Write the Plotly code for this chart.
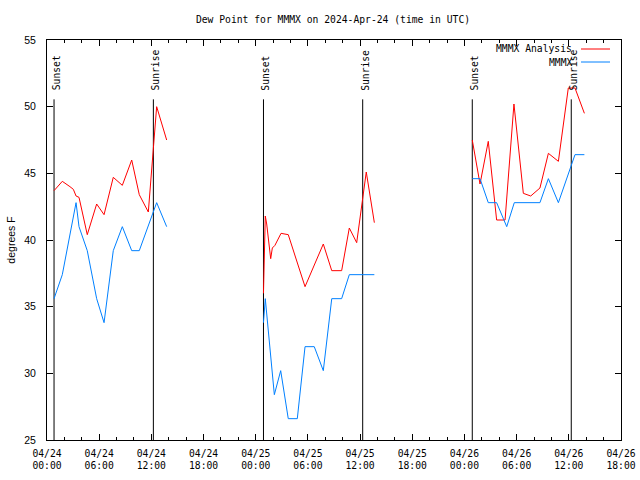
import pandas as pd
import plotly.graph_objects as go

BASE = pd.Timestamp("2024-04-24 00:00")

# Hours since 2024-04-24 00:00 UTC (None breaks the line between nights)
analysis_hours = [0.81, 1.76, 2.64, 3.03, 3.34, 3.68, 4.63, 5.71, 6.56, 7.62, 8.66, 9.74, 10.61, 11.65, 12.61, 13.76,
                  None,
                  24.89, 25.10, 25.26, 25.72, 25.91, 26.21, 26.91, 27.74, 29.67, 31.77, 32.74, 33.88, 34.76, 35.61, 36.71, 37.64,
                  None,
                  48.90, 49.79, 50.74, 51.70, 52.67, 53.69, 54.77, 55.62, 56.68, 57.65, 58.80, 59.94, 60.71, 61.79]
analysis_dewpt = [43.7, 44.4, 44.0, 43.8, 43.3, 43.2, 40.4, 42.7, 41.9, 44.7, 44.1, 46.0, 43.4, 42.1, 50.0, 47.5,
                  None,
                  36.0, 41.8, 41.2, 38.6, 39.4, 39.6, 40.5, 40.4, 36.5, 39.7, 37.7, 37.7, 40.9, 39.8, 45.1, 41.3,
                  None,
                  47.5, 44.2, 47.4, 41.5, 41.5, 50.2, 43.5, 43.3, 43.9, 46.5, 45.9, 51.4, 51.4, 49.5]

obs_hours = [0.81, 1.76, 3.34, 3.68, 4.63, 5.71, 6.56, 7.62, 8.66, 9.74, 10.61, 12.61, 13.76,
             None,
             24.89, 25.10, 26.14, 26.87, 27.74, 28.78, 29.67, 30.73, 31.77, 32.74, 33.88, 34.76, 37.64,
             None,
             48.90, 49.79, 50.74, 51.70, 52.86, 53.73, 56.68, 57.65, 58.80, 60.71, 61.79]
obs_dewpt = [35.6, 37.4, 42.8, 41.0, 39.2, 35.6, 33.8, 39.2, 41.0, 39.2, 39.2, 42.8, 41.0,
             None,
             33.8, 35.6, 28.4, 30.2, 26.6, 26.6, 32.0, 32.0, 30.2, 35.6, 35.6, 37.4, 37.4,
             None,
             44.6, 44.6, 42.8, 42.8, 41.0, 42.8, 42.8, 44.6, 42.8, 46.4, 46.4]

sunset_hours = [0.81, 24.89, 48.90]
sunrise_hours = [12.23, 36.30, 60.28]
marker_top = 50.55
y_min, y_max = 25, 55
x_span_hours = 66

tick_hours = [0, 6, 12, 18, 24, 30, 36, 42, 48, 54, 60, 66]
tick_labels = ["04/24<br>00:00", "04/24<br>06:00", "04/24<br>12:00", "04/24<br>18:00",
               "04/25<br>00:00", "04/25<br>06:00", "04/25<br>12:00", "04/25<br>18:00",
               "04/26<br>00:00", "04/26<br>06:00", "04/26<br>12:00", "04/26<br>18:00"]
y_ticks = [25, 30, 35, 40, 45, 50, 55]


def to_time(hours):
    return [None if h is None else BASE + pd.Timedelta(hours=h) for h in hours]


MONO = "DejaVu Sans Mono"
FS = 9.7

fig = go.Figure()

for hrs, label in ((sunset_hours, "Sunset"), (sunrise_hours, "Sunrise")):
    for h in hrs:
        t = BASE + pd.Timedelta(hours=h)
        fig.add_trace(go.Scatter(x=[t, t], y=[y_min, marker_top], mode="lines",
                                 line=dict(color="black", width=1), showlegend=False,
                                 hoverinfo="skip"))
        fig.add_annotation(x=t, y=marker_top + 0.5, text=label, textangle=-90,
                           showarrow=False, xanchor="center", yanchor="bottom",
                           xshift=2, font=dict(family=MONO, size=FS, color="black"))

fig.add_trace(go.Scatter(x=to_time(analysis_hours), y=analysis_dewpt, mode="lines",
                         line=dict(color="#ff0000", width=1), connectgaps=False,
                         name="MMMX Analysis", showlegend=False))
fig.add_trace(go.Scatter(x=to_time(obs_hours), y=obs_dewpt, mode="lines",
                         line=dict(color="#0080ff", width=1), connectgaps=False,
                         name="MMMX", showlegend=False))

# gnuplot-style legend (text left of the line sample)
L, R, T, B = 47, 19, 40, 40
W, H = 640, 480
pw, ph = W - L - R, H - T - B
for i, (name, col) in enumerate((("MMMX Analysis", "#ff0000"), ("MMMX", "#0080ff"))):
    py = 49 + 13 * i
    yp = (H - B - py) / ph
    fig.add_annotation(xref="paper", yref="paper", x=(574 - L) / pw, y=yp, text=name,
                       showarrow=False, xanchor="right", yanchor="middle",
                       font=dict(family=MONO, size=FS, color="black"))
    fig.add_shape(type="line", xref="paper", yref="paper",
                  x0=(581 - L) / pw, x1=(610 - L) / pw, y0=yp, y1=yp,
                  line=dict(color=col, width=1))

fig.update_layout(
    width=W, height=H,
    margin=dict(l=L, r=R, t=T, b=B, pad=0, autoexpand=False),
    paper_bgcolor="white", plot_bgcolor="white",
    showlegend=False,
    title=dict(text="Dew Point for MMMX on 2024-Apr-24 (time in UTC)",
               x=(333 - L) / pw, xref="paper", xanchor="center",
               y=1 - 20 / H, yref="container", yanchor="middle",
               font=dict(family=MONO, size=FS, color="black")),
)
fig.update_xaxes(
    automargin=False,
    range=[BASE, BASE + pd.Timedelta(hours=x_span_hours)],
    tickvals=to_time(tick_hours), ticktext=tick_labels,
    ticks="inside", ticklen=6, tickcolor="black", tickwidth=1,
    minor=dict(dtick=2 * 3600 * 1000, tick0=BASE, ticks="inside", ticklen=3,
               tickcolor="black", tickwidth=1),
    showline=True, linecolor="black", linewidth=1, mirror="ticks",
    showgrid=False, zeroline=False,
    tickfont=dict(family=MONO, size=FS, color="black"),
    ticklabelstandoff=4,
)
fig.update_yaxes(
    automargin=False,
    range=[y_min, y_max], tickvals=y_ticks,
    ticks="inside", ticklen=6, tickcolor="black", tickwidth=1,
    showline=True, linecolor="black", linewidth=1, mirror="ticks",
    showgrid=False, zeroline=False,
    tickfont=dict(family="Liberation Sans", size=10.5, color="black"),
    ticklabelstandoff=8,
    title=dict(text="degrees F", standoff=6,
               font=dict(family="Liberation Sans", size=10.5, color="black")),
)

fig.write_html("out.html", config={"displayModeBar": False},
               post_script="document.body.style.margin='0px';document.body.style.overflow='hidden';")
